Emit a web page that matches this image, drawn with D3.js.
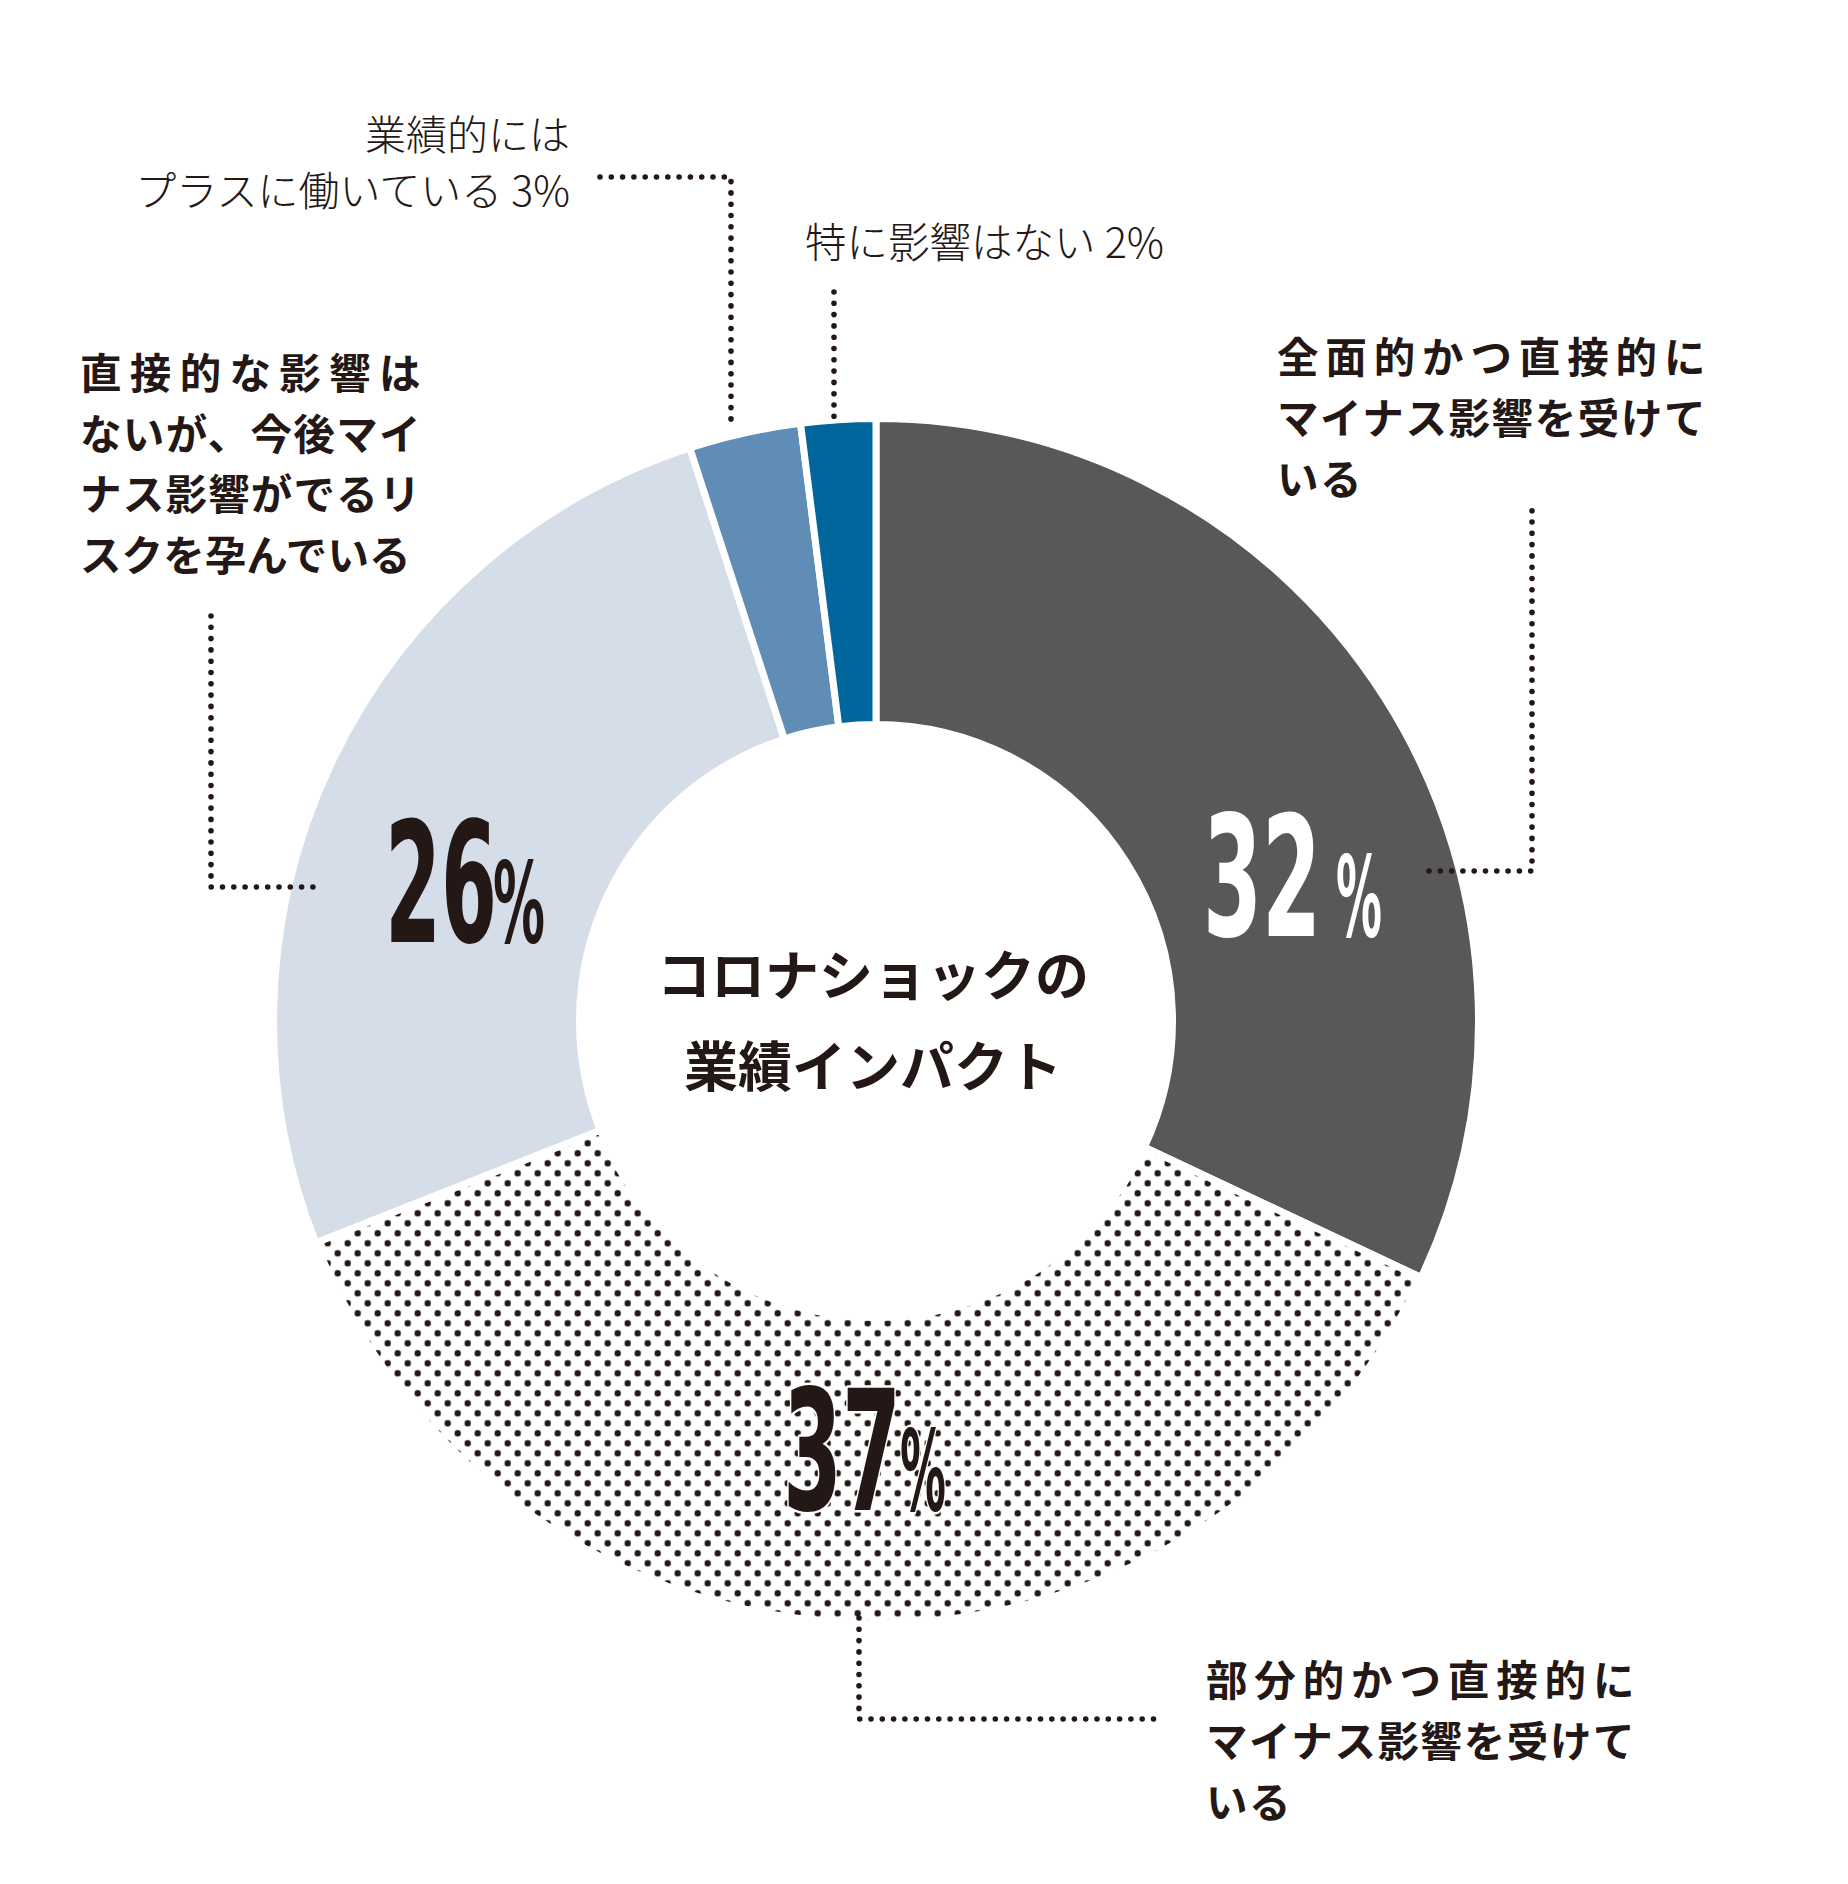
<!DOCTYPE html>
<html>
<head>
<meta charset="utf-8">
<script src="https://cdn.jsdelivr.net/npm/d3@7"></script>
<style>
  html, body { margin: 0; padding: 0; background: #ffffff; }
  svg { display: block; }
</style>
</head>
<body>
<svg id="chart" width="1848" height="1884"></svg>
<script>
// ---------- data ----------
const categories = [
  "全面的かつ直接的にマイナス影響を受けている",
  "部分的かつ直接的にマイナス影響を受けている",
  "直接的な影響はないが、今後マイナス影響がでるリスクを孕んでいる",
  "業績的にはプラスに働いている",
  "特に影響はない"
];
const values = [32, 37, 26, 3, 2];
const labelLines = [
  ["全面的かつ直接的に", "マイナス影響を受けて", "いる"],
  ["部分的かつ直接的に", "マイナス影響を受けて", "いる"],
  ["直接的な影響は", "ないが、今後マイ", "ナス影響がでるリ", "スクを孕んでいる"],
  ["業績的には", "プラスに働いている"],
  ["特に影響はない"]
];
const centerTitle = ["コロナショックの", "業績インパクト"];

// ---------- styles / layout ----------
const INK = "#231815";
const sliceFill = ["#595758", "url(#dots)", "#d5dde9", "#5f8db6", "#00669b"];
const cx = 876, cy = 1021;
const outerR = 602.5, innerR = 296.5;

// big percentage labels: digit left x, baseline, digit advance width, % left x, % advance width, colour, halo
const bigLayout = [
  { x: 1203, y: 936, w: 118, px: 1336, pw: 46, fill: "#ffffff", halo: false },
  { x: 783,  y: 1510, w: 118, px: 900,  pw: 46, fill: INK, halo: true },
  { x: 385,  y: 942, w: 112, px: 493,  pw: 52, fill: INK, halo: false }
];
// bold category blocks: x, first line centre y, line gap, justified widths
const blockLayout = [
  { idx: 0, x: 1277, y: 355, gap: 61, widths: [430, 430, null] },
  { idx: 1, x: 1206, y: 1678, gap: 61, widths: [430, 430, null] },
  { idx: 2, x: 80,   y: 371, gap: 60.5, widths: [342, 342, 342, 332] }
];
// leader lines (dotted), as point lists
const leaders = [
  [[1429, 871], [1532, 871], [1532, 503]],
  [[859, 1618], [859, 1719], [1155, 1719]],
  [[211, 616], [211, 887], [315, 887]],
  [[600, 177], [731, 177], [731, 426]],
  [[834, 292], [834, 426]]
];

const svg = d3.select("#chart");

// dot pattern for the 37% slice
const defs = svg.append("defs");
const pat = defs.append("pattern")
  .attr("id", "dots")
  .attr("patternUnits", "userSpaceOnUse")
  .attr("width", 20).attr("height", 20)
  .attr("x", -3.3).attr("y", 7.3);
pat.append("rect").attr("width", 20).attr("height", 20).attr("fill", "#ffffff");
pat.append("circle").attr("cx", 5).attr("cy", 5).attr("r", 3.2).attr("fill", INK);
pat.append("circle").attr("cx", 15).attr("cy", 15).attr("r", 3.2).attr("fill", INK);

// ---------- donut ----------
const pie = d3.pie().sort(null).value(d => d);
const arcs = pie(values);
const arc = d3.arc().innerRadius(innerR).outerRadius(outerR);

const g = svg.append("g").attr("transform", `translate(${cx},${cy})`);
g.selectAll("path.slice")
  .data(arcs)
  .join("path")
  .attr("class", "slice")
  .attr("d", arc)
  .attr("fill", (d, i) => sliceFill[i])
  .attr("stroke", "#ffffff")
  .attr("stroke-width", 7)
  .attr("stroke-linejoin", "miter");

// ---------- leader lines ----------
const line = d3.line();
svg.append("g").selectAll("path")
  .data(leaders)
  .join("path")
  .attr("d", d => line(d))
  .attr("fill", "none")
  .attr("stroke", INK)
  .attr("stroke-width", 5.6)
  .attr("stroke-linecap", "round")
  .attr("stroke-dasharray", "0 11.3");

// ---------- big percentage labels ----------
const numFont = "'Liberation Sans Narrow', 'DejaVu Sans Condensed', 'Liberation Sans', sans-serif";
const bigG = svg.append("g");
bigLayout.forEach((L, i) => {
  const v = values[i];
  const mk = (str, x, w, size) => {
    const t = bigG.append("text")
      .attr("font-family", numFont)
      .attr("font-weight", 700)
      .attr("font-size", size)
      .attr("fill", L.fill)
      .text(str);
    if (L.halo) {
      t.attr("stroke", "#ffffff").attr("stroke-width", 5)
       .attr("stroke-linejoin", "round").attr("paint-order", "stroke");
    }
    const len = t.node().getComputedTextLength();
    t.attr("transform", `translate(${x},${L.y}) scale(${w / len},1)`);
  };
  mk(String(v), L.x, L.w, 168);
  mk("%", L.px, L.pw, 112);
});

// ---------- bold category blocks ----------
const jpFont = "'Noto Sans CJK JP', 'Noto Sans CJK SC', sans-serif";
const blockG = svg.append("g");
blockLayout.forEach(B => {
  labelLines[B.idx].forEach((s, k) => {
    const t = blockG.append("text")
      .attr("x", B.x)
      .attr("y", B.y + k * B.gap)
      .attr("dominant-baseline", "central")
      .attr("font-family", jpFont)
      .attr("font-weight", 700)
      .attr("font-size", 41.5)
      .attr("letter-spacing", 1.5)
      .attr("fill", INK)
      .text(s);
    if (B.widths[k]) t.attr("textLength", B.widths[k]).attr("lengthAdjust", "spacing");
  });
});

// ---------- light small labels ----------
const lightG = svg.append("g")
  .attr("font-family", jpFont)
  .attr("font-weight", 300)
  .attr("font-size", 41)
  .attr("fill", INK);
lightG.append("text")
  .attr("x", 570).attr("y", 132)
  .attr("text-anchor", "end")
  .attr("dominant-baseline", "central")
  .text(labelLines[3][0]);
lightG.append("text")
  .attr("x", 570).attr("y", 188)
  .attr("text-anchor", "end")
  .attr("dominant-baseline", "central")
  .text(labelLines[3][1] + " " + values[3] + "%");
lightG.append("text")
  .attr("x", 805).attr("y", 240)
  .attr("dominant-baseline", "central")
  .attr("font-size", 41.5)
  .text(labelLines[4][0] + " " + values[4] + "%");

// ---------- centre title ----------
svg.append("g").selectAll("text")
  .data(centerTitle)
  .join("text")
  .attr("x", cx - 3)
  .attr("y", (d, i) => 972 + i * 91)
  .attr("text-anchor", "middle")
  .attr("dominant-baseline", "central")
  .attr("font-family", jpFont)
  .attr("font-weight", 700)
  .attr("font-size", 54)
  .attr("letter-spacing", 0)
  .attr("fill", INK)
  .text(d => d);
</script>
</body>
</html>
